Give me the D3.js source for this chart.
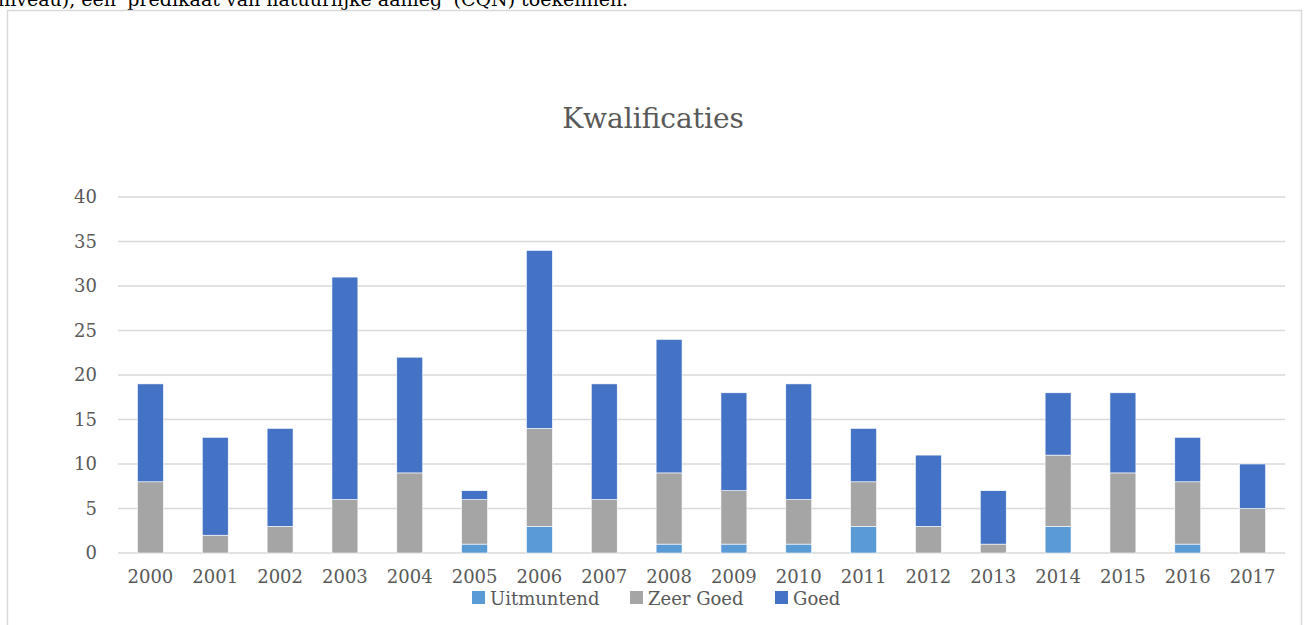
<!DOCTYPE html>
<html>
<head>
<meta charset="utf-8">
<script src="https://cdn.jsdelivr.net/npm/d3@7"></script>
<style>
  body { margin: 0; background: #fff; }
</style>
</head>
<body>
<div id="chart"></div>
<script>
// data
const years = ["2000","2001","2002","2003","2004","2005","2006","2007","2008",
  "2009","2010","2011","2012","2013","2014","2015","2016","2017"];
const uitmuntend = [0,0,0,0,0,1,3,0,1,1,1,3,0,0,3,0,1,0];
const zeerGoed   = [8,2,3,6,9,5,11,6,8,6,5,5,3,1,8,9,7,5];
const goed       = [11,11,11,25,13,1,20,13,15,11,13,6,8,6,7,9,5,5];
const seriesNames = ["Uitmuntend", "Zeer Goed", "Goed"];
const colors = ["#5B9BD5", "#A5A5A5", "#4472C4"];
const yTicks = [0,5,10,15,20,25,30,35,40];

const FONT = "DejaVu Serif";
const W = 1306, H = 625;
const margin = { top: 197, right: 21, bottom: 72, left: 118 };
const width = W - margin.left - margin.right,
  height = H - margin.top - margin.bottom;

const svg = d3.select("#chart").append("svg")
  .attr("width", W).attr("height", H)
  .style("display", "block");

// text above the chart (cut off at the top edge, as in the original screenshot)
svg.append("text")
  .attr("x", -2).attr("y", 6)
  .style("font-family", FONT)
  .attr("font-size", 19).attr("fill", "#000")
  .text("niveau), een 'predikaat van natuurlijke aanleg' (CQN) toekennen.");

// chart frame
svg.append("rect")
  .attr("x", 7.5).attr("y", 10.5)
  .attr("width", 1294).attr("height", 640)
  .attr("fill", "#fff").attr("stroke", "#d9d9d9").attr("stroke-width", 1.5);

svg.append("text")
  .attr("x", 653).attr("y", 128)
  .attr("text-anchor", "middle")
  .style("font-family", FONT)
  .attr("font-size", 28).attr("fill", "#595959")
  .text("Kwalificaties");

const g = svg.append("g")
  .attr("transform", "translate(" + margin.left + "," + margin.top + ")");

const x = d3.scaleBand().domain(years).range([0, width])
  .paddingInner(0.6).paddingOuter(0.3);
const y = d3.scaleLinear().domain([0, 40]).range([height, 0]);

// gridlines
g.selectAll(".grid").data(yTicks).enter().append("line")
  .attr("x1", 0).attr("x2", width)
  .attr("y1", d => y(d)).attr("y2", d => y(d))
  .attr("stroke", "#d9d9d9").attr("stroke-width", 1.5);

// y axis labels
const yAxis = g.append("g")
  .call(d3.axisLeft(y).tickValues(yTicks).tickSize(0).tickPadding(21));
yAxis.select(".domain").remove();
yAxis.selectAll("text")
  .style("font-family", FONT)
  .attr("font-size", 18).attr("fill", "#595959");

// stacked bars
const table = years.map((yr, i) => ({
  year: yr, Uitmuntend: uitmuntend[i], "Zeer Goed": zeerGoed[i], Goed: goed[i]
}));
const stacked = d3.stack().keys(seriesNames)(table);

g.selectAll(".layer").data(stacked).enter().append("g")
  .attr("fill", (d, i) => colors[i])
  .selectAll("rect").data(d => d.filter(s => s[1] > s[0])).enter().append("rect")
  .attr("x", d => x(d.data.year))
  .attr("width", x.bandwidth())
  .attr("y", d => y(d[1]))
  .attr("height", d => y(d[0]) - y(d[1]))
  .attr("stroke", "#fff").attr("stroke-width", 0.6);

// x axis labels
const xAxis = g.append("g")
  .attr("transform", "translate(0," + height + ")")
  .call(d3.axisBottom(x).tickSize(0).tickPadding(17));
xAxis.select(".domain").remove();
xAxis.selectAll("text")
  .style("font-family", FONT)
  .attr("font-size", 18).attr("fill", "#595959");

// legend
const legendX = [472, 630, 775];
const legend = svg.selectAll(".legend").data(seriesNames).enter().append("g")
  .attr("transform", (d, i) => "translate(" + legendX[i] + ",591)");
legend.append("rect")
  .attr("width", 13).attr("height", 13)
  .attr("fill", (d, i) => colors[i]);
legend.append("text")
  .attr("x", 18).attr("y", 14)
  .style("font-family", FONT)
  .attr("font-size", 18).attr("fill", "#595959")
  .text(d => d);
</script>
</body>
</html>
